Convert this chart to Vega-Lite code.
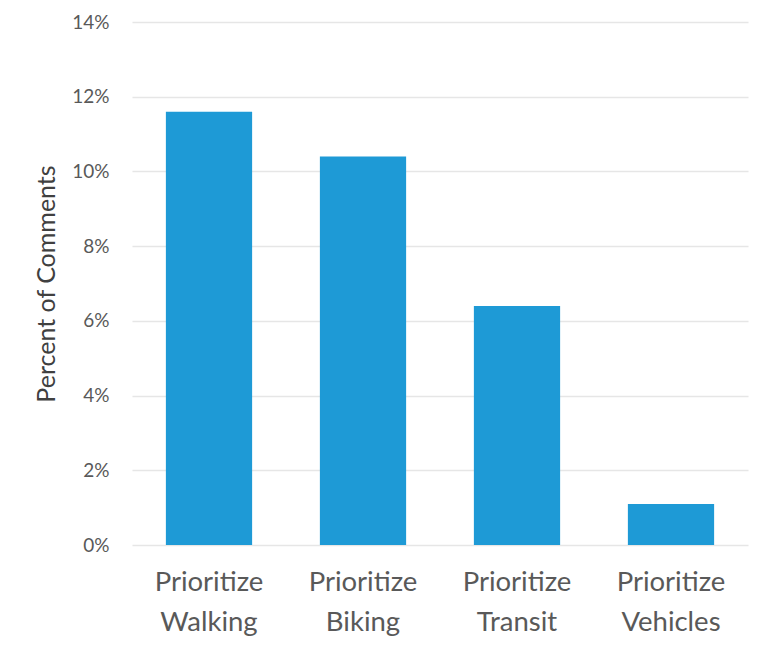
{
  "$schema": "https://vega.github.io/schema/vega-lite/v6.json",
  "width": 616,
  "height": 523,
  "autosize": "none",
  "padding": {"left": 132, "top": 22, "right": 12, "bottom": 103},
  "background": "white",
  "config": {"view": {"stroke": null}, "font": "Lato"},
  "data": {"values": [
    {"category": "Prioritize\nWalking", "percent": 0.116},
    {"category": "Prioritize\nBiking", "percent": 0.104},
    {"category": "Prioritize\nTransit", "percent": 0.064},
    {"category": "Prioritize\nVehicles", "percent": 0.011}
  ]},
  "mark": {"type": "bar", "color": "#1E9AD6"},
  "encoding": {
    "x": {
      "field": "category", "type": "nominal", "sort": null,
      "scale": {"paddingInner": 0.44, "paddingOuter": 0.22},
      "axis": {
        "title": null, "labelAngle": 0, "domain": false, "ticks": false,
        "labelExpr": "split(datum.label, '\\n')",
        "labelFontSize": 27.5, "labelColor": "#595959", "labelPadding": 23,
        "labelLineHeight": 40, "labelFont": "Lato"
      }
    },
    "y": {
      "field": "percent", "type": "quantitative",
      "scale": {"domain": [0, 0.14]},
      "axis": {
        "title": "Percent of Comments", "format": ".0%", "values": [0, 0.02, 0.04, 0.06, 0.08, 0.1, 0.12, 0.14],
        "domain": false, "ticks": false, "gridColor": "#E6E6E6", "gridWidth": 1.5,
        "labelFontSize": 19, "labelColor": "#595959", "labelPadding": 23,
        "titleFontSize": 25, "titleColor": "#404040", "titleFontWeight": "normal",
        "titlePadding": 12, "titleFont": "Lato"
      }
    }
  }
}
